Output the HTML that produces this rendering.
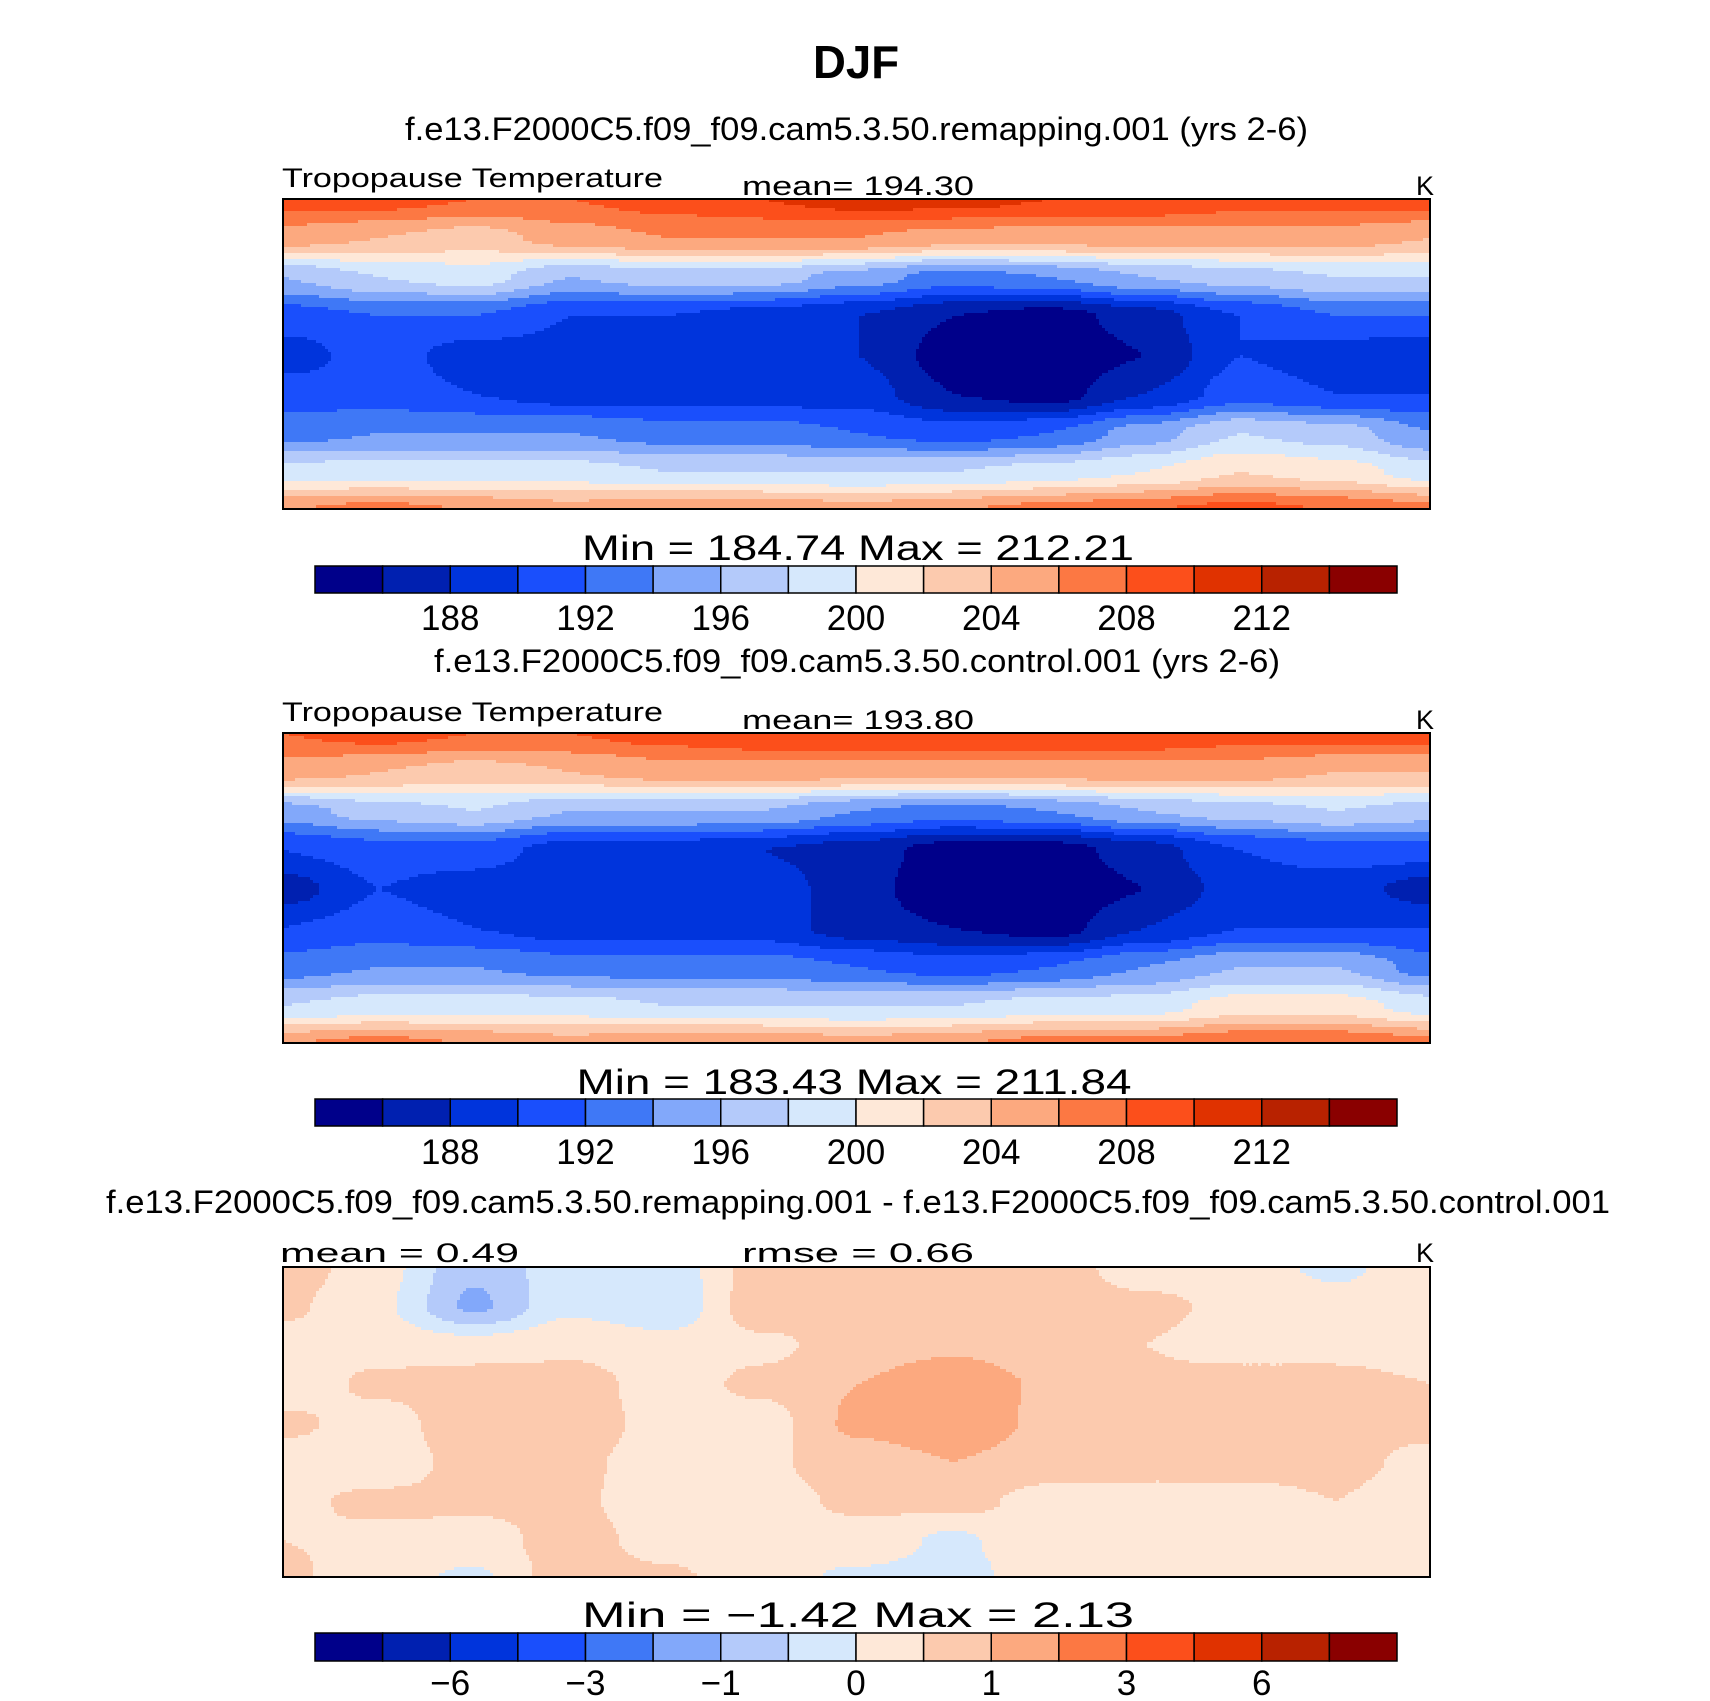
<!DOCTYPE html>
<html><head><meta charset="utf-8">
<style>
html,body{margin:0;padding:0;background:#fff;}
svg{display:block;}
text{font-family:"Liberation Sans",sans-serif;fill:#000;}
</style></head>
<body>
<svg id="fig" width="1710" height="1701" viewBox="0 0 1710 1701" xmlns="http://www.w3.org/2000/svg">
  <text x="856" y="78" font-size="46" font-weight="bold" text-anchor="middle" textLength="86" lengthAdjust="spacingAndGlyphs">DJF</text>

  <text x="405" y="140" font-size="32" textLength="903" lengthAdjust="spacingAndGlyphs">f.e13.F2000C5.f09_f09.cam5.3.50.remapping.001 (yrs 2-6)</text>
  <text x="282" y="187" font-size="27" textLength="381" lengthAdjust="spacingAndGlyphs">Tropopause  Temperature</text>
  <text x="742" y="195" font-size="27" textLength="232" lengthAdjust="spacingAndGlyphs">mean=  194.30</text>
  <text x="1416" y="195" font-size="27">K</text>
  <g id="map1"></g>
  <text x="858" y="560" font-size="35" text-anchor="middle" textLength="552" lengthAdjust="spacingAndGlyphs">Min  =  184.74  Max  =  212.21</text>
  <g id="cb1"></g>

  <text x="434" y="672" font-size="32" textLength="846" lengthAdjust="spacingAndGlyphs">f.e13.F2000C5.f09_f09.cam5.3.50.control.001 (yrs 2-6)</text>
  <text x="282" y="721" font-size="27" textLength="381" lengthAdjust="spacingAndGlyphs">Tropopause  Temperature</text>
  <text x="742" y="729" font-size="27" textLength="232" lengthAdjust="spacingAndGlyphs">mean=  193.80</text>
  <text x="1416" y="729" font-size="27">K</text>
  <g id="map2"></g>
  <text x="854" y="1094" font-size="35" text-anchor="middle" textLength="555" lengthAdjust="spacingAndGlyphs">Min  =  183.43  Max  =  211.84</text>
  <g id="cb2"></g>

  <text x="106" y="1213" font-size="32" textLength="1504" lengthAdjust="spacingAndGlyphs">f.e13.F2000C5.f09_f09.cam5.3.50.remapping.001 - f.e13.F2000C5.f09_f09.cam5.3.50.control.001</text>
  <text x="280" y="1262" font-size="27" textLength="239" lengthAdjust="spacingAndGlyphs">mean =     0.49</text>
  <text x="742" y="1262" font-size="27" textLength="232" lengthAdjust="spacingAndGlyphs">rmse =     0.66</text>
  <text x="1416" y="1262" font-size="27">K</text>
  <g id="map3"></g>
  <text x="858" y="1627" font-size="35" text-anchor="middle" textLength="552" lengthAdjust="spacingAndGlyphs">Min  =    −1.42  Max  =     2.13</text>
  <g id="cb3"></g>
</svg>
<script>
// colour table (16 fill colours)
const colors = ["#00008a","#0020b0","#0034dc","#1a4ffc","#3f78f6","#82a8fa","#b4cafa","#d6e8fc","#fee8d8","#fccaae","#fca97f","#fc7843","#fc4f1b","#e03200","#b82200","#8a0000"];
// contour levels
const levelsT = [186,188,190,192,194,196,198,200,202,204,206,208,210,212,214];
const tickLabelsT = ["188","192","196","200","204","208","212"];
const levelsD = [-8,-6,-4,-3,-2,-1,-0.5,0,0.5,1,2,3,4,6,8];
const tickLabelsD = ["−6","−3","−1","0","1","3","6"];
const tickIndex = [1,3,5,7,9,11,13];

// field grids: 9 latitude rows (north->south) x 13 longitude columns (west->east)
const fieldRemap = [
 [209,209,208,208,209,210,211,211,210,210,209,209,209],
 [205,204,203,205,206,206,206,205,205,205,205,205,204],
 [196,198,199,196,197,197,195,193,194,196,197,198,198],
 [191,192,192,190,190,189,188,186,185,187,190,192,192],
 [189,191,189,189,189,189,188,185,184,186,190,189,188],
 [191,191,190,189,189,189,189,186,185,188,191,190,190],
 [193,194,194,194,193,193,192,191,192,195,198,197,194],
 [199,199,199,199,198,198,198,198,199,200,202,201,199],
 [206,207,206,205,206,206,205,206,207,208,209,208,207]
];
const fieldControl = [
 [208,209,208,208,209,210,210,210,210,210,209,209,209],
 [205,204,203,204,205,205,205,205,205,205,205,204,204],
 [195,197,198,196,196,196,194,193,194,196,197,198,197],
 [190,191,191,189,189,188,187,185,185,187,190,191,191],
 [187,190,189,188,189,189,187,184,184,186,189,189,187],
 [190,191,190,189,189,189,187,186,185,188,190,190,190],
 [193,194,194,193,193,193,192,191,192,194,196,196,193],
 [198,199,199,199,198,198,198,198,199,199,201,201,199],
 [206,207,206,205,206,206,205,206,207,207,208,208,207]
];
const fieldDiff = [
 [0.8,0.2,-0.9,-0.2,-0.3,0.7,0.6,0.8,0.7,0.3,0.2,-0.1,0.3],
 [0.6,0.1,-1.1,-0.1,-0.4,0.8,0.5,0.9,0.7,0.6,0.4,0.2,0.3],
 [0.3,0.3,0.2,0.4,0.2,0.4,0.7,0.9,0.6,0.5,0.3,0.4,0.3],
 [0.2,0.6,0.8,0.7,0.3,0.6,1.0,1.4,0.9,0.6,0.7,0.6,0.5],
 [0.6,0.3,0.8,0.8,0.3,0.3,1.1,1.3,0.9,0.8,0.6,0.7,0.6],
 [0.3,0.2,0.7,0.6,0.3,0.4,0.8,1.0,0.8,0.6,0.6,0.6,0.4],
 [0.4,0.6,0.6,0.6,0.2,0.3,0.6,0.7,0.3,0.4,0.4,0.5,0.3],
 [0.5,0.4,0.3,0.7,0.3,0.1,0.3,-0.1,0.4,0.1,0.2,0.3,0.2],
 [0.6,0.2,-0.1,0.8,0.6,0.2,-0.1,-0.2,0.3,0.2,0.2,0.1,0.3]
];

const NS = "http://www.w3.org/2000/svg";
function mk(tag, attrs, parent){
  const e = document.createElementNS(NS, tag);
  for (const k in attrs) e.setAttribute(k, attrs[k]);
  parent.appendChild(e);
  return e;
}
function colorIndex(v, levels){
  let i = 0;
  while (i < levels.length && v >= levels[i]) i++;
  return i;
}
function sample(grid, fx, fy){
  const R = grid.length - 1, C = grid[0].length - 1;
  const gx = fx * C, gy = fy * R;
  const c0 = Math.min(Math.floor(gx), C - 1), r0 = Math.min(Math.floor(gy), R - 1);
  let tx = gx - c0, ty = gy - r0;
  tx = tx*tx*(3-2*tx); ty = ty*ty*(3-2*ty);
  const a = grid[r0][c0], b = grid[r0][c0+1], c = grid[r0+1][c0], d = grid[r0+1][c0+1];
  return (a*(1-tx)+b*tx)*(1-ty) + (c*(1-tx)+d*tx)*ty;
}
function drawMap(g, grid, levels, x0, y0, w, h){
  const step = 3;
  const nx = Math.ceil(w/step), ny = Math.ceil(h/step);
  for (let j = 0; j < ny; j++){
    const fy = (j + 0.5) / ny;
    let start = 0, cur = colorIndex(sample(grid, 0.5/nx, fy), levels);
    for (let i = 1; i <= nx; i++){
      const ci = i < nx ? colorIndex(sample(grid, (i+0.5)/nx, fy), levels) : -1;
      if (ci !== cur){
        const x = x0 + start*step, y = y0 + j*step;
        const rw = Math.min(i*step, w) - start*step, rh = Math.min(step, h - j*step);
        const r = mk("rect", {x:x, y:y, width:rw+0.6, height:rh+0.6, fill:colors[cur]}, g);
        
        
        start = i; cur = ci;
      }
    }
  }
  const b = mk("rect", {x:x0, y:y0, width:w, height:h, fill:"none", stroke:"#000", "stroke-width":2}, g);
  
  
}
function drawColorbar(g, labels, x0, y0, w, h, ty){
  const cw = w / colors.length;
  colors.forEach((c, i) => {
    const r = mk("rect", {x:x0+i*cw, y:y0, width:cw, height:h, fill:c, stroke:"#000", "stroke-width":1.5}, g);
    
    
  });
  labels.forEach((t, k) => {
    const tx = x0 + (tickIndex[k] + 1) * cw;
    const e = mk("text", {x:tx, y:ty, "font-size":35, "text-anchor":"middle"}, g);
    e.textContent = t;
    
    
  });
}
const MX = 283, MW = 1147, MH = 310;
drawMap(document.getElementById("map1"), fieldRemap, levelsT, MX, 199, MW, MH);
drawMap(document.getElementById("map2"), fieldControl, levelsT, MX, 733, MW, MH);
drawMap(document.getElementById("map3"), fieldDiff, levelsD, MX, 1267, MW, MH);
drawColorbar(document.getElementById("cb1"), tickLabelsT, 315, 566, 1082, 27, 630);
drawColorbar(document.getElementById("cb2"), tickLabelsT, 315, 1099, 1082, 27, 1164);
drawColorbar(document.getElementById("cb3"), tickLabelsD, 315, 1633, 1082, 28, 1695);
</script>
</body></html>
